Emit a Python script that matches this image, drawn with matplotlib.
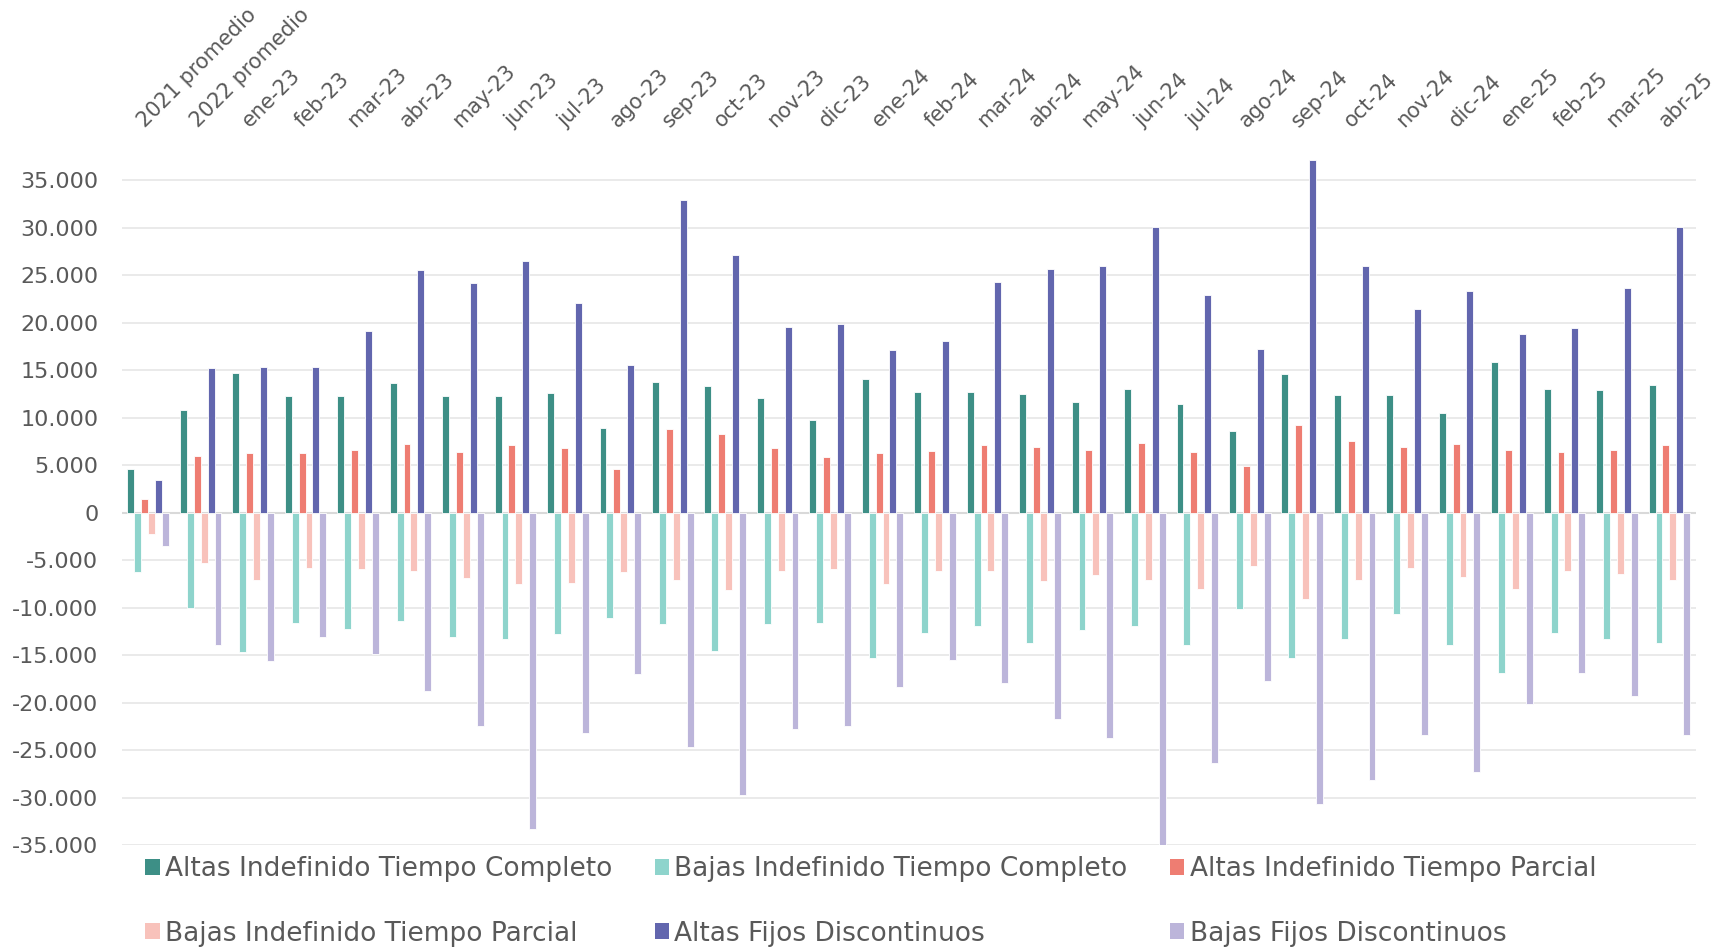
import numpy as np
import matplotlib.pyplot as plt
from matplotlib.ticker import FuncFormatter
from matplotlib.patches import Patch
from matplotlib.transforms import ScaledTranslation

plt.rcParams['font.family'] = ['DejaVu Sans']

# ── Data ────────────────────────────────────────────────────────
categories = ["2021 promedio", "2022 promedio",
              "ene-23", "feb-23", "mar-23", "abr-23", "may-23", "jun-23",
              "jul-23", "ago-23", "sep-23", "oct-23", "nov-23", "dic-23",
              "ene-24", "feb-24", "mar-24", "abr-24", "may-24", "jun-24",
              "jul-24", "ago-24", "sep-24", "oct-24", "nov-24", "dic-24",
              "ene-25", "feb-25", "mar-25", "abr-25"]

altas_itc = [4550, 10800, 14710, 12240, 12240, 13620, 12240, 12240, 12560, 8950,
             13760, 13300, 12070, 9740, 14080, 12700, 12700, 12530, 11610, 13020,
             11430, 8640, 14570, 12390, 12390, 10520, 15840, 13020, 12880, 13480]
bajas_itc = [-6290, -10010, -14680, -11590, -12220, -11410, -13130, -13310, -12820, -11100,
             -11730, -14540, -11730, -11590, -15340, -12680, -11900, -13760, -12360, -11900,
             -13900, -10180, -15310, -13270, -10640, -13900, -16850, -12680, -13270, -13760]
altas_itp = [1450, 6000, 6280, 6280, 6600, 7200, 6420, 7090, 6780, 4550,
             8790, 8330, 6780, 5820, 6280, 6460, 7090, 6920, 6600, 7370,
             6420, 4870, 9280, 7550, 6920, 7230, 6600, 6420, 6600, 7090]
bajas_itp = [-2210, -5340, -7060, -5830, -5970, -6140, -6920, -7550, -7370, -6290,
             -7060, -8150, -6140, -5970, -7550, -6140, -6140, -7230, -6600, -7060,
             -8010, -5650, -9090, -7060, -5830, -6740, -8010, -6140, -6460, -7060]
altas_fd = [3460, 15210, 15350, 15350, 19120, 25510, 24140, 26470, 22090, 15530,
            32890, 27100, 19580, 19900, 17080, 18030, 24280, 25690, 26010, 30060,
            22900, 17250, 37120, 26010, 21450, 23320, 18810, 19410, 23640, 30060]
bajas_fd = [-3480, -13900, -15630, -13130, -14850, -18750, -22470, -33360, -23240, -17000,
            -24650, -29740, -22790, -22470, -18400, -15490, -17940, -21700, -23700, -35000,
            -26370, -17770, -30690, -28200, -23420, -27280, -20120, -16850, -19350, -23420]

series_names = ["Altas Indefinido Tiempo Completo", "Bajas Indefinido Tiempo Completo",
                "Altas Indefinido Tiempo Parcial", "Bajas Indefinido Tiempo Parcial",
                "Altas Fijos Discontinuos", "Bajas Fijos Discontinuos"]
series_vals = [altas_itc, bajas_itc, altas_itp, bajas_itp, altas_fd, bajas_fd]
colors = ["#3D8F86", "#8ED4CC", "#EE7D72", "#F8C2BB", "#6266AE", "#BCB5DA"]

TXT = "#595959"

# ── Figure ──────────────────────────────────────────────────────
fig = plt.figure(figsize=(17.35, 9.49), dpi=100)
ax = fig.add_axes([0.0703, 0.1096, 0.907, 0.7404])

x = np.arange(len(categories))
w = 0.132
for i, (vals, col) in enumerate(zip(series_vals, colors)):
    ax.bar(x + (i - 2.5) * w, vals, width=w, color=col,
           edgecolor="white", linewidth=0.6, zorder=3)

ax.set_xlim(-0.5, len(categories) - 0.5)
ax.set_ylim(-35000, 39000)
ax.set_yticks(np.arange(-35000, 35001, 5000))
ax.yaxis.set_major_formatter(FuncFormatter(lambda v, p: f"{int(v):,}".replace(",", ".")))
ax.grid(axis="y", color="#E6E6E6", lw=1.2, zorder=0)
ax.axhline(0, color="#D9D9D9", lw=1.5, zorder=2)
for s in ax.spines.values():
    s.set_visible(False)

ax.xaxis.tick_top()
ax.set_xticks(x)
ax.set_xticklabels(categories, rotation=45, ha="left", va="bottom",
                   rotation_mode="anchor", fontsize=15, color=TXT)
shift = ScaledTranslation(4 / 72, 0, fig.dpi_scale_trans)
for lab in ax.get_xticklabels():
    lab.set_transform(lab.get_transform() + shift)
ax.tick_params(axis="x", length=0, pad=8)
ax.tick_params(axis="y", length=0, pad=17, labelsize=16, labelcolor=TXT)

# legend, row-major order in 3 columns
handles = [Patch(facecolor=c, edgecolor="none") for c in colors]
order = [0, 3, 1, 4, 2, 5]
fig.legend([handles[k] for k in order], [series_names[k] for k in order],
           ncol=3, loc="lower left", bbox_to_anchor=(0.073, -0.017),
           frameon=False, fontsize=19, labelcolor=TXT,
           handlelength=0.55, handleheight=0.55, handletextpad=0.2,
           columnspacing=1.6, labelspacing=1.45, borderpad=0.2)

fig.savefig("out.png", dpi=100, facecolor="white")
